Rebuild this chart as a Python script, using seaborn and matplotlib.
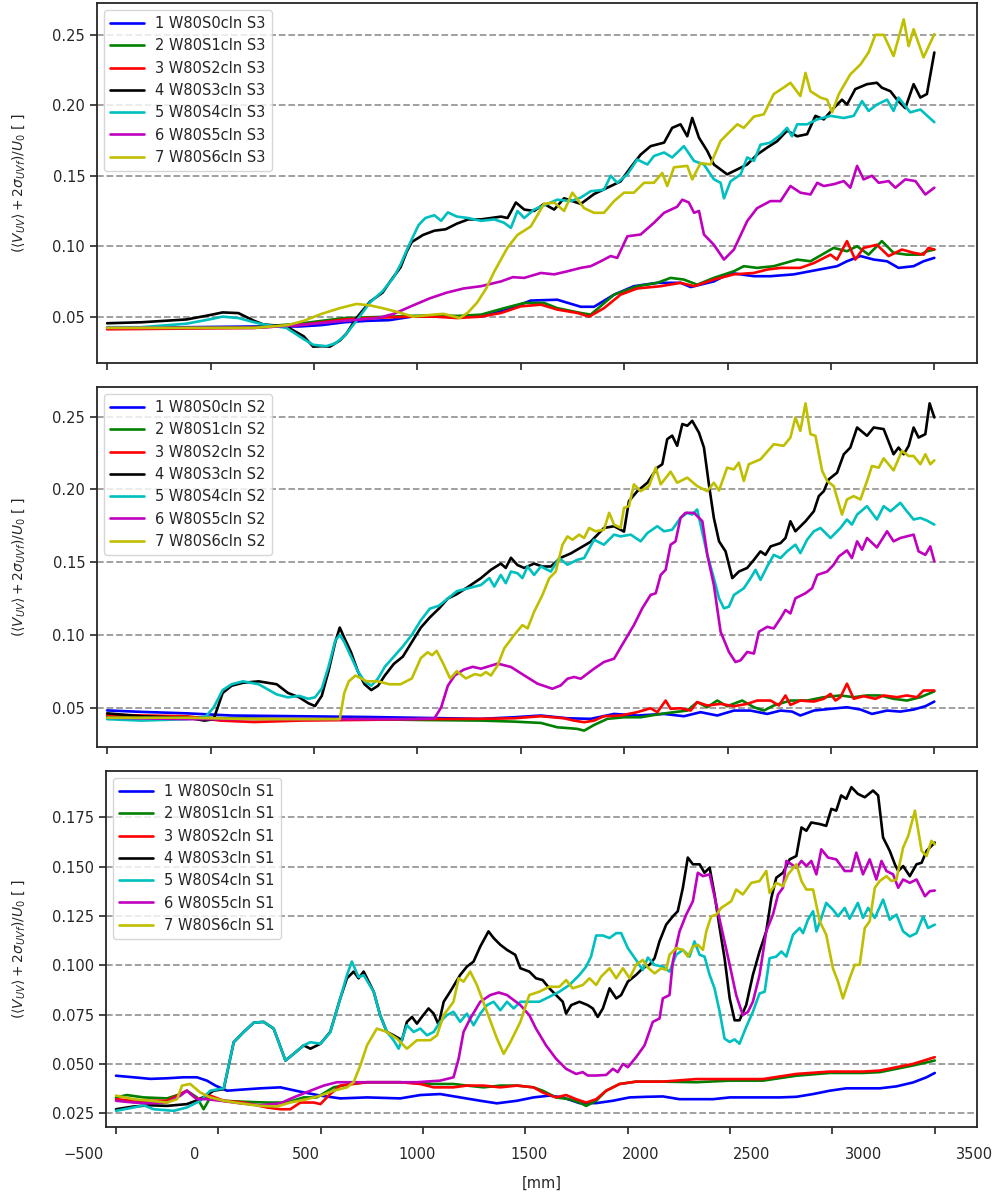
import numpy as np
import pandas as pd
import matplotlib
matplotlib.use("Agg")
import matplotlib.pyplot as plt
import seaborn as sns
from matplotlib.ticker import MultipleLocator, FormatStrFormatter

# ---------------- data (x in mm, y = (<V_UV> + 2 sigma_UVf)/U0) ----------------
# Panel S3 (top)
S3_1 = [(-353,0.042),(-200,0.042),(0,0.0425),(300,0.043),(500,0.043),(600,0.044),(700,0.046),(800,0.047),(900,0.0475),(1000,0.050),(1100,0.050),(1200,0.050),(1307,0.050),(1425,0.055),(1528,0.0614),(1646,0.062),(1750,0.057),(1809,0.057),(1898,0.0656),(1986,0.0716),(2090,0.074),(2193,0.074),(2238,0.071),(2341,0.075),(2415,0.081),(2519,0.0787),(2592,0.0787),(2696,0.080),(2785,0.0827),(2888,0.0858),(2932,0.0893),(2992,0.093),(3051,0.0905),(3110,0.0893),(3161,0.0846),(3228,0.0858),(3272,0.0893),(3320,0.0917)]
S3_2 = [(-353,0.042),(0,0.042),(300,0.0425),(500,0.045),(600,0.047),(700,0.049),(800,0.0495),(900,0.050),(1000,0.0505),(1100,0.051),(1200,0.0505),(1307,0.0514),(1410,0.056),(1499,0.0597),(1587,0.0597),(1646,0.056),(1750,0.0526),(1794,0.0514),(1898,0.0656),(2001,0.0716),(2090,0.074),(2149,0.0775),(2208,0.0763),(2267,0.0727),(2341,0.0775),(2430,0.0822),(2474,0.0858),(2533,0.0846),(2607,0.0858),(2711,0.0905),(2770,0.0893),(2873,0.0988),(2932,0.0964),(2977,0.100),(3028,0.094),(3087,0.1036),(3139,0.0953),(3198,0.094),(3258,0.094),(3287,0.0964),(3320,0.0976)]
S3_3 = [(-353,0.041),(0,0.0415),(300,0.042),(500,0.044),(600,0.046),(700,0.048),(800,0.049),(900,0.0495),(1000,0.050),(1100,0.050),(1200,0.049),(1307,0.050),(1396,0.0526),(1484,0.0573),(1573,0.0585),(1646,0.055),(1735,0.0526),(1787,0.050),(1853,0.056),(1927,0.0656),(2001,0.070),(2105,0.0716),(2193,0.074),(2253,0.0716),(2341,0.0763),(2430,0.080),(2519,0.081),(2578,0.0834),(2637,0.0846),(2725,0.0846),(2785,0.088),(2859,0.094),(2888,0.0905),(2932,0.1036),(2969,0.0905),(3006,0.0988),(3065,0.101),(3117,0.093),(3176,0.0976),(3228,0.0953),(3272,0.094),(3294,0.0988),(3320,0.0976)]
S3_4 = [(-353,0.0453),(-200,0.046),(0,0.048),(100,0.051),(160,0.053),(230,0.0525),(300,0.047),(340,0.0445),(443,0.043),(520,0.036),(562,0.0287),(600,0.029),(636,0.0287),(680,0.033),(710,0.038),(754,0.049),(814,0.0606),(870,0.067),(903,0.0748),(950,0.085),(977,0.096),(1000,0.103),(1050,0.108),(1100,0.111),(1150,0.112),(1200,0.116),(1250,0.119),(1307,0.119),(1396,0.121),(1425,0.120),(1462,0.131),(1499,0.126),(1543,0.125),(1587,0.130),(1632,0.126),(1676,0.134),(1750,0.130),(1809,0.137),(1868,0.1415),(1927,0.146),(1972,0.156),(2016,0.165),(2060,0.171),(2120,0.1735),(2156,0.184),(2193,0.1865),(2223,0.178),(2245,0.191),(2275,0.177),(2312,0.1675),(2341,0.158),(2400,0.151),(2445,0.1545),(2489,0.158),(2533,0.165),(2578,0.170),(2622,0.1745),(2666,0.182),(2711,0.178),(2755,0.1795),(2792,0.1925),(2829,0.190),(2873,0.198),(2910,0.204),(2932,0.2005),(2969,0.2115),(3021,0.215),(3065,0.216),(3087,0.2125),(3125,0.210),(3154,0.204),(3191,0.198),(3228,0.215),(3258,0.2055),(3287,0.208),(3320,0.2375)]
S3_5 = [(-353,0.0425),(-200,0.0425),(0,0.045),(100,0.048),(160,0.050),(230,0.049),(300,0.046),(340,0.0445),(443,0.042),(520,0.034),(562,0.030),(620,0.029),(660,0.031),(700,0.036),(754,0.047),(814,0.060),(870,0.068),(920,0.078),(950,0.087),(977,0.097),(1000,0.105),(1030,0.115),(1060,0.120),(1100,0.122),(1130,0.118),(1160,0.124),(1200,0.121),(1250,0.120),(1307,0.118),(1366,0.119),(1410,0.1166),(1440,0.113),(1469,0.125),(1499,0.120),(1543,0.126),(1602,0.130),(1646,0.133),(1706,0.132),(1750,0.1345),(1794,0.139),(1853,0.140),(1883,0.150),(1912,0.145),(1957,0.151),(2001,0.1615),(2046,0.158),(2075,0.164),(2120,0.1665),(2156,0.163),(2208,0.171),(2253,0.1605),(2297,0.158),(2341,0.1475),(2371,0.145),(2386,0.134),(2415,0.146),(2460,0.151),(2489,0.163),(2519,0.1605),(2548,0.172),(2592,0.1735),(2637,0.179),(2666,0.184),(2688,0.178),(2711,0.1865),(2755,0.1865),(2800,0.190),(2859,0.1925),(2918,0.191),(2962,0.1925),(2999,0.203),(3028,0.196),(3065,0.2005),(3110,0.204),(3139,0.196),(3161,0.2055),(3213,0.195),(3258,0.197),(3320,0.188)]
S3_6 = [(-353,0.042),(0,0.042),(300,0.042),(500,0.044),(700,0.047),(850,0.049),(920,0.052),(1006,0.058),(1080,0.063),(1154,0.067),(1230,0.070),(1307,0.0716),(1396,0.075),(1448,0.078),(1499,0.0775),(1573,0.081),(1632,0.080),(1691,0.0822),(1750,0.0846),(1794,0.0858),(1839,0.0893),(1883,0.093),(1912,0.0917),(1957,0.107),(2016,0.1083),(2075,0.1166),(2120,0.1237),(2178,0.128),(2201,0.133),(2230,0.131),(2253,0.1237),(2275,0.125),(2297,0.1083),(2341,0.101),(2386,0.0905),(2430,0.0976),(2489,0.1178),(2533,0.127),(2592,0.132),(2637,0.132),(2681,0.1427),(2725,0.138),(2770,0.1367),(2800,0.145),(2829,0.1427),(2873,0.144),(2918,0.1462),(2947,0.1415),(2977,0.157),(3006,0.1474),(3043,0.150),(3073,0.145),(3117,0.1462),(3147,0.1415),(3191,0.1474),(3236,0.1462),(3280,0.1367),(3320,0.1415)]
S3_7 = [(-353,0.042),(0,0.042),(300,0.042),(450,0.044),(520,0.047),(600,0.052),(680,0.056),(754,0.059),(814,0.058),(870,0.056),(932,0.0535),(1006,0.050),(1070,0.051),(1139,0.052),(1213,0.049),(1250,0.053),(1290,0.060),(1330,0.070),(1366,0.082),(1425,0.099),(1469,0.108),(1528,0.114),(1587,0.130),(1632,0.131),(1676,0.125),(1713,0.138),(1765,0.127),(1809,0.1237),(1853,0.1237),(1898,0.132),(1942,0.138),(1986,0.138),(2031,0.145),(2075,0.145),(2112,0.152),(2134,0.1427),(2164,0.156),(2223,0.157),(2245,0.1474),(2282,0.159),(2326,0.158),(2371,0.1747),(2400,0.1794),(2445,0.1865),(2474,0.184),(2519,0.192),(2563,0.1936),(2607,0.208),(2651,0.2126),(2681,0.216),(2725,0.2066),(2748,0.223),(2770,0.210),(2814,0.2055),(2844,0.204),(2866,0.195),(2896,0.208),(2947,0.222),(2992,0.229),(3028,0.2375),(3058,0.250),(3095,0.250),(3139,0.235),(3184,0.261),(3206,0.242),(3228,0.254),(3272,0.234),(3320,0.2505)]

# Panel S2 (middle)
S2_1 = [(-353,0.048),(-200,0.047),(0,0.046),(200,0.0445),(500,0.044),(800,0.0435),(1000,0.043),(1200,0.0425),(1307,0.0422),(1454,0.0433),(1573,0.0445),(1691,0.0426),(1794,0.0422),(1898,0.0456),(2001,0.0445),(2120,0.0456),(2208,0.044),(2282,0.0468),(2356,0.0445),(2430,0.0479),(2504,0.0479),(2578,0.0456),(2637,0.0479),(2688,0.0472),(2725,0.0445),(2785,0.0479),(2859,0.0491),(2932,0.0502),(2992,0.0486),(3043,0.0456),(3110,0.0479),(3169,0.0472),(3228,0.0486),(3280,0.0509),(3320,0.0541)]
S2_2 = [(-353,0.044),(0,0.0435),(200,0.0425),(500,0.042),(800,0.042),(1000,0.0415),(1307,0.041),(1454,0.0403),(1573,0.0394),(1646,0.0364),(1706,0.0357),(1735,0.0353),(1765,0.0341),(1809,0.038),(1868,0.0422),(1942,0.0433),(2016,0.0433),(2105,0.0456),(2164,0.0468),(2223,0.0479),(2267,0.0537),(2312,0.0502),(2356,0.0548),(2400,0.0509),(2467,0.0548),(2519,0.0502),(2563,0.0479),(2607,0.0514),(2681,0.0548),(2755,0.0548),(2829,0.0571),(2903,0.0583),(2962,0.0571),(3021,0.0583),(3080,0.0583),(3139,0.056),(3198,0.0548),(3258,0.0571),(3320,0.0611)]
S2_3 = [(-353,0.045),(0,0.044),(150,0.041),(300,0.040),(500,0.041),(800,0.0415),(1000,0.042),(1307,0.0422),(1454,0.0426),(1573,0.044),(1676,0.0426),(1720,0.041),(1765,0.0399),(1809,0.041),(1853,0.044),(1927,0.0445),(2001,0.0468),(2060,0.0495),(2090,0.0468),(2127,0.0548),(2149,0.0491),(2193,0.0495),(2238,0.0479),(2267,0.0537),(2312,0.0514),(2371,0.0525),(2430,0.0509),(2489,0.0525),(2533,0.0548),(2593,0.0548),(2630,0.0514),(2659,0.0583),(2681,0.0518),(2725,0.0548),(2785,0.0541),(2829,0.056),(2859,0.0594),(2881,0.0548),(2903,0.0571),(2932,0.0664),(2962,0.056),(3006,0.0578),(3058,0.056),(3095,0.0583),(3154,0.0571),(3198,0.0583),(3243,0.0571),(3272,0.0617),(3320,0.0617)]
S2_4 = [(-353,0.046),(-200,0.044),(0,0.043),(80,0.041),(120,0.042),(160,0.060),(200,0.065),(250,0.067),(320,0.068),(400,0.066),(450,0.060),(500,0.057),(540,0.053),(570,0.051),(600,0.058),(630,0.075),(660,0.095),(680,0.105),(700,0.098),(730,0.088),(760,0.075),(790,0.066),(820,0.062),(850,0.065),(880,0.072),(920,0.080),(960,0.085),(1000,0.095),(1040,0.105),(1080,0.112),(1120,0.118),(1160,0.125),(1200,0.128),(1250,0.133),(1307,0.139),(1351,0.1447),(1395,0.149),(1417,0.146),(1440,0.153),(1469,0.148),(1499,0.146),(1543,0.149),(1580,0.147),(1617,0.147),(1661,0.153),(1706,0.156),(1750,0.160),(1794,0.164),(1853,0.1735),(1898,0.1747),(1942,0.171),(1964,0.192),(2001,0.1988),(2046,0.2046),(2090,0.215),(2112,0.2173),(2134,0.2346),(2156,0.237),(2178,0.230),(2201,0.245),(2223,0.2438),(2245,0.2472),(2275,0.239),(2297,0.2288),(2319,0.2035),(2341,0.1804),(2364,0.1643),(2393,0.1574),(2423,0.139),(2452,0.1435),(2489,0.146),(2519,0.1516),(2548,0.1574),(2570,0.155),(2593,0.1608),(2637,0.1631),(2659,0.1666),(2681,0.1781),(2703,0.1712),(2748,0.1781),(2785,0.185),(2807,0.1954),(2829,0.1988),(2851,0.2069),(2888,0.2115),(2918,0.2242),(2947,0.2288),(2977,0.2426),(3021,0.2369),(3051,0.2426),(3095,0.2415),(3139,0.2242),(3161,0.2288),(3184,0.2242),(3206,0.230),(3228,0.2426),(3250,0.2357),(3280,0.238),(3299,0.2592),(3320,0.2495)]
S2_5 = [(-353,0.042),(-200,0.041),(0,0.042),(80,0.043),(120,0.050),(160,0.062),(200,0.066),(250,0.068),(320,0.066),(400,0.059),(450,0.057),(500,0.058),(540,0.056),(570,0.057),(600,0.063),(630,0.078),(660,0.096),(680,0.100),(700,0.095),(730,0.085),(760,0.075),(790,0.068),(820,0.065),(850,0.070),(880,0.078),(920,0.085),(960,0.092),(1000,0.100),(1040,0.110),(1080,0.118),(1120,0.120),(1160,0.125),(1200,0.130),(1250,0.132),(1307,0.1343),(1344,0.139),(1366,0.1332),(1395,0.1412),(1417,0.1355),(1440,0.1435),(1469,0.1424),(1491,0.139),(1514,0.147),(1543,0.1412),(1573,0.147),(1617,0.1435),(1654,0.1528),(1691,0.1482),(1735,0.1516),(1765,0.1528),(1809,0.1654),(1853,0.162),(1898,0.1689),(1927,0.1677),(1972,0.1689),(2016,0.1643),(2046,0.170),(2090,0.1747),(2120,0.1712),(2156,0.1723),(2193,0.1804),(2223,0.1839),(2245,0.1827),(2267,0.1862),(2282,0.1758),(2312,0.155),(2341,0.139),(2364,0.1251),(2386,0.1182),(2408,0.1194),(2430,0.1274),(2474,0.132),(2504,0.139),(2526,0.1447),(2548,0.1378),(2578,0.147),(2607,0.155),(2637,0.1528),(2666,0.1574),(2703,0.162),(2725,0.1562),(2755,0.1654),(2785,0.1712),(2814,0.1735),(2859,0.1666),(2903,0.1735),(2932,0.1793),(2954,0.1758),(2977,0.1827),(3021,0.1885),(3065,0.1793),(3095,0.1885),(3125,0.185),(3169,0.1908),(3198,0.185),(3228,0.1793),(3258,0.1804),(3287,0.1786),(3320,0.1758)]
S2_6 = [(-353,0.043),(0,0.042),(500,0.042),(1000,0.042),(1100,0.0425),(1130,0.050),(1160,0.065),(1190,0.072),(1230,0.076),(1270,0.078),(1307,0.0767),(1381,0.0802),(1440,0.0779),(1499,0.0721),(1558,0.0664),(1624,0.0629),(1661,0.0652),(1691,0.0698),(1720,0.071),(1750,0.0698),(1780,0.0733),(1809,0.0767),(1853,0.0813),(1898,0.0836),(1942,0.0952),(1986,0.1067),(2023,0.1182),(2060,0.1274),(2083,0.1286),(2105,0.1412),(2127,0.1447),(2149,0.162),(2171,0.1643),(2193,0.1804),(2215,0.1839),(2253,0.1839),(2290,0.1781),(2312,0.155),(2341,0.1343),(2371,0.1021),(2408,0.0882),(2437,0.0813),(2460,0.0825),(2489,0.0882),(2519,0.0871),(2541,0.1021),(2578,0.1055),(2607,0.1044),(2637,0.1113),(2659,0.1171),(2681,0.1147),(2703,0.1251),(2748,0.1286),(2777,0.132),(2800,0.1412),(2844,0.1435),(2873,0.1482),(2896,0.1539),(2932,0.1581),(2954,0.1528),(2977,0.1643),(2999,0.1585),(3021,0.1666),(3065,0.1601),(3110,0.1712),(3139,0.1643),(3169,0.1666),(3228,0.1689),(3250,0.1574),(3280,0.155),(3302,0.1608),(3320,0.1505)]
S2_7 = [(-353,0.043),(0,0.043),(300,0.042),(600,0.042),(680,0.042),(700,0.060),(720,0.068),(750,0.072),(800,0.068),(850,0.068),(900,0.066),(950,0.066),(1000,0.070),(1040,0.084),(1070,0.088),(1090,0.086),(1110,0.089),(1140,0.080),(1170,0.070),(1200,0.075),(1240,0.070),(1280,0.073),(1307,0.072),(1329,0.0744),(1351,0.072),(1381,0.079),(1410,0.0906),(1454,0.0998),(1491,0.1067),(1514,0.1044),(1543,0.1159),(1580,0.1274),(1610,0.1389),(1639,0.1435),(1669,0.162),(1691,0.1677),(1713,0.1654),(1743,0.1689),(1765,0.1666),(1787,0.1735),(1816,0.1712),(1853,0.1723),(1876,0.1839),(1898,0.1758),(1927,0.1735),(1942,0.1873),(1964,0.1885),(1986,0.2035),(2016,0.1988),(2053,0.2023),(2083,0.215),(2105,0.2035),(2149,0.2122),(2178,0.2046),(2223,0.2081),(2267,0.2023),(2312,0.1988),(2341,0.2046),(2364,0.1993),(2400,0.215),(2430,0.2138),(2452,0.2184),(2474,0.2058),(2496,0.2173),(2548,0.2207),(2607,0.2311),(2651,0.230),(2681,0.2357),(2703,0.2495),(2725,0.2403),(2748,0.2592),(2770,0.238),(2792,0.2369),(2822,0.2127),(2844,0.2058),(2873,0.2023),(2910,0.1827),(2932,0.1931),(2962,0.1954),(2992,0.1931),(3021,0.2058),(3043,0.2161),(3073,0.215),(3095,0.2214),(3139,0.2131),(3176,0.2265),(3206,0.223),(3228,0.223),(3258,0.2173),(3280,0.2242),(3302,0.2173),(3320,0.220)]

# Panel S1 (bottom)
S1_1 = [(-353,0.044),(-274,0.0432),(-199,0.0424),(-124,0.0427),(-50,0.0432),(10,0.0432),(55,0.0415),(93,0.039),(145,0.0364),(205,0.0369),(294,0.0376),(384,0.0381),(474,0.0359),(564,0.0339),(653,0.0325),(773,0.033),(922,0.0325),(1012,0.0342),(1101,0.0347),(1191,0.033),(1281,0.0313),(1356,0.030),(1446,0.0313),(1520,0.033),(1591,0.0339),(1651,0.033),(1726,0.0301),(1801,0.0301),(1876,0.0313),(1951,0.033),(2025,0.0333),(2100,0.0335),(2175,0.0321),(2250,0.0321),(2325,0.0321),(2400,0.033),(2474,0.033),(2549,0.033),(2624,0.033),(2699,0.0333),(2774,0.0347),(2849,0.0364),(2923,0.0376),(2998,0.0376),(3073,0.0376),(3148,0.0386),(3223,0.0406),(3283,0.0432),(3320,0.0454)]
S1_2 = [(-353,0.033),(-304,0.0342),(-229,0.033),(-124,0.0325),(-64,0.0347),(-35,0.0364),(10,0.033),(40,0.027),(70,0.033),(130,0.0313),(220,0.0308),(324,0.0304),(414,0.0304),(489,0.033),(548,0.033),(623,0.0381),(698,0.0398),(773,0.0407),(922,0.0407),(1072,0.0398),(1161,0.0398),(1221,0.039),(1296,0.0381),(1371,0.039),(1446,0.039),(1520,0.0381),(1561,0.0364),(1621,0.033),(1681,0.0321),(1726,0.0304),(1756,0.0287),(1801,0.0313),(1846,0.0364),(1906,0.0398),(1980,0.041),(2100,0.041),(2250,0.0407),(2400,0.0415),(2549,0.0415),(2699,0.044),(2849,0.0454),(2998,0.0454),(3073,0.0458),(3148,0.0475),(3223,0.0492),(3320,0.0517)]
S1_3 = [(-353,0.0321),(-274,0.0313),(-199,0.0313),(-124,0.0313),(-64,0.0347),(-35,0.0364),(10,0.0321),(70,0.0339),(130,0.0313),(220,0.0304),(324,0.0279),(384,0.027),(429,0.027),(474,0.0304),(534,0.0304),(564,0.0296),(608,0.0347),(653,0.039),(773,0.0407),(922,0.0407),(1012,0.0398),(1072,0.0381),(1161,0.0381),(1221,0.039),(1296,0.039),(1371,0.0381),(1446,0.039),(1520,0.0381),(1561,0.0355),(1621,0.033),(1666,0.0342),(1711,0.0321),(1756,0.0304),(1801,0.0321),(1846,0.0364),(1906,0.0398),(1980,0.041),(2100,0.041),(2250,0.0423),(2400,0.0423),(2549,0.0423),(2699,0.0449),(2849,0.0461),(2998,0.0461),(3073,0.0466),(3148,0.0483),(3223,0.050),(3320,0.0534)]
S1_4 = [(-353,0.027),(-274,0.0284),(-199,0.029),(-124,0.0287),(-35,0.0296),(25,0.0321),(85,0.0364),(130,0.0372),(175,0.061),(220,0.0662),(265,0.0709),(309,0.0713),(354,0.0679),(377,0.061),(407,0.0517),(444,0.0551),(489,0.0594),(519,0.0577),(564,0.0602),(608,0.0662),(653,0.0832),(683,0.0934),(713,0.0968),(735,0.0934),(758,0.0968),(803,0.0866),(832,0.0747),(862,0.0662),(892,0.0645),(930,0.062),(952,0.0713),(975,0.0738),(997,0.0704),(1019,0.0738),(1049,0.0781),(1072,0.0755),(1094,0.0699),(1117,0.0815),(1146,0.0866),(1191,0.0951),(1221,0.0993),(1251,0.1019),(1281,0.1095),(1318,0.1172),(1341,0.1138),(1371,0.1104),(1401,0.1078),(1438,0.1053),(1461,0.0985),(1501,0.0968),(1531,0.0934),(1561,0.0925),(1591,0.0883),(1621,0.0849),(1651,0.0815),(1666,0.0755),(1689,0.0798),(1726,0.0815),(1763,0.0798),(1786,0.0781),(1808,0.0738),(1831,0.0781),(1861,0.0883),(1891,0.0832),(1913,0.0849),(1943,0.0917),(1980,0.0951),(2010,0.0985),(2040,0.1002),(2063,0.1036),(2085,0.1121),(2115,0.1206),(2145,0.1248),(2167,0.1274),(2190,0.1393),(2212,0.1546),(2235,0.1512),(2265,0.1512),(2287,0.1469),(2310,0.1495),(2332,0.1359),(2355,0.1189),(2377,0.1036),(2400,0.0832),(2422,0.0721),(2444,0.0721),(2474,0.0798),(2504,0.0951),(2534,0.107),(2564,0.1172),(2587,0.1342),(2609,0.1444),(2639,0.1469),(2669,0.1537),(2699,0.1554),(2722,0.1699),(2744,0.1682),(2766,0.1724),(2804,0.1716),(2833,0.1707),(2856,0.1793),(2878,0.1784),(2900,0.1861),(2923,0.1844),(2946,0.1903),(2975,0.1869),(3006,0.1852),(3043,0.1886),(3066,0.1861),(3088,0.1648),(3118,0.158),(3141,0.1512),(3156,0.1478),(3178,0.1503),(3208,0.1452),(3238,0.1512),(3261,0.152),(3283,0.158),(3320,0.1622)]
S1_5 = [(-353,0.0262),(-274,0.0279),(-229,0.029),(-184,0.027),(-94,0.0262),(-35,0.0279),(25,0.0313),(70,0.0364),(130,0.0376),(175,0.061),(220,0.0662),(265,0.0709),(309,0.0713),(354,0.068),(377,0.061),(407,0.0517),(444,0.0551),(489,0.0594),(519,0.061),(564,0.0602),(608,0.066),(653,0.0832),(683,0.095),(705,0.1019),(735,0.094),(758,0.095),(803,0.0866),(832,0.0747),(862,0.0662),(892,0.062),(915,0.0577),(952,0.0696),(982,0.0662),(1012,0.0679),(1042,0.0645),(1072,0.0662),(1101,0.0713),(1131,0.0747),(1161,0.0764),(1191,0.0713),(1221,0.0755),(1251,0.0696),(1281,0.0755),(1311,0.0798),(1341,0.0815),(1371,0.0772),(1401,0.0815),(1431,0.0781),(1461,0.0815),(1501,0.0815),(1546,0.0815),(1591,0.084),(1636,0.0866),(1681,0.09),(1726,0.0951),(1756,0.0993),(1778,0.1044),(1801,0.1151),(1831,0.1151),(1861,0.1138),(1891,0.1163),(1913,0.1163),(1943,0.1087),(1980,0.1027),(2010,0.0976),(2033,0.1039),(2063,0.1002),(2100,0.0993),(2130,0.0968),(2160,0.1053),(2190,0.1078),(2220,0.1044),(2242,0.1121),(2265,0.1053),(2287,0.1044),(2310,0.0951),(2332,0.0883),(2355,0.0764),(2377,0.0628),(2400,0.0611),(2422,0.0624),(2444,0.0602),(2474,0.0687),(2504,0.0764),(2534,0.0857),(2557,0.0866),(2579,0.1036),(2609,0.1044),(2632,0.107),(2654,0.1044),(2684,0.1155),(2714,0.1189),(2729,0.1163),(2751,0.1231),(2774,0.1274),(2789,0.1172),(2811,0.124),(2833,0.1316),(2863,0.1282),(2886,0.1248),(2916,0.1291),(2938,0.1236),(2975,0.1316),(2998,0.124),(3021,0.1291),(3051,0.124),(3088,0.1333),(3118,0.1231),(3148,0.1257),(3178,0.1172),(3208,0.1146),(3238,0.1163),(3268,0.1248),(3290,0.1189),(3320,0.1206)]
S1_6 = [(-353,0.0313),(-274,0.0304),(-199,0.030),(-124,0.0304),(-64,0.0339),(-35,0.0364),(10,0.0321),(55,0.0321),(115,0.0313),(205,0.030),(294,0.029),(384,0.030),(444,0.033),(519,0.0364),(579,0.039),(638,0.0407),(713,0.0407),(847,0.0407),(997,0.0407),(1101,0.0415),(1161,0.0432),(1184,0.0526),(1206,0.0662),(1236,0.073),(1281,0.0815),(1326,0.0849),(1364,0.0862),(1401,0.0849),(1461,0.0798),(1501,0.0747),(1531,0.0679),(1576,0.0594),(1621,0.0526),(1666,0.0475),(1711,0.0449),(1741,0.0458),(1763,0.0441),(1801,0.0441),(1846,0.0444),(1876,0.0475),(1898,0.0458),(1921,0.050),(1943,0.0483),(1980,0.0534),(2018,0.0594),(2055,0.0713),(2085,0.073),(2100,0.0832),(2130,0.0849),(2145,0.1019),(2175,0.1172),(2205,0.1257),(2235,0.1325),(2257,0.1469),(2280,0.1452),(2310,0.1461),(2340,0.1308),(2370,0.1155),(2400,0.1002),(2429,0.0849),(2459,0.0747),(2482,0.0764),(2504,0.0815),(2534,0.0951),(2564,0.1172),(2594,0.1257),(2617,0.1359),(2639,0.1393),(2654,0.1529),(2677,0.1512),(2699,0.1495),(2722,0.1529),(2744,0.1503),(2766,0.1529),(2789,0.1461),(2811,0.1588),(2841,0.1546),(2878,0.1537),(2916,0.1478),(2946,0.1478),(2968,0.1571),(2998,0.1461),(3028,0.1537),(3058,0.1435),(3081,0.1529),(3103,0.1478),(3133,0.1461),(3156,0.1393),(3178,0.1435),(3208,0.1418),(3238,0.1435),(3276,0.135),(3298,0.1376),(3320,0.1379)]
S1_7 = [(-353,0.0339),(-274,0.0321),(-199,0.0313),(-124,0.0304),(-79,0.0321),(-57,0.039),(-20,0.0398),(25,0.0355),(70,0.033),(130,0.0313),(205,0.030),(294,0.0287),(369,0.0284),(429,0.0304),(504,0.0321),(564,0.0339),(623,0.0364),(683,0.0381),(713,0.0407),(743,0.0492),(773,0.0594),(817,0.0679),(862,0.0662),(907,0.0628),(952,0.0577),(997,0.062),(1057,0.062),(1087,0.0645),(1117,0.0747),(1161,0.0815),(1184,0.0934),(1206,0.0917),(1236,0.0968),(1266,0.090),(1311,0.0764),(1356,0.0628),(1386,0.0551),(1416,0.061),(1461,0.0713),(1501,0.0849),(1546,0.0866),(1591,0.0891),(1636,0.0891),(1666,0.0925),(1696,0.0883),(1741,0.090),(1771,0.0934),(1801,0.090),(1823,0.0942),(1861,0.0985),(1891,0.0934),(1921,0.0985),(1951,0.0934),(1980,0.1002),(2010,0.1027),(2033,0.0988),(2063,0.0959),(2093,0.0985),(2115,0.0976),(2130,0.1053),(2160,0.1087),(2190,0.1078),(2212,0.1044),(2235,0.1095),(2257,0.1104),(2280,0.1078),(2295,0.1172),(2317,0.1248),(2340,0.1257),(2362,0.1291),(2385,0.1308),(2407,0.1325),(2429,0.1384),(2459,0.1359),(2497,0.1418),(2534,0.1427),(2564,0.1478),(2579,0.1367),(2609,0.1418),(2639,0.1401),(2662,0.1461),(2699,0.1512),(2722,0.1427),(2744,0.1384),(2774,0.1384),(2804,0.1223),(2833,0.1155),(2863,0.0985),(2886,0.0917),(2908,0.0832),(2938,0.0934),(2961,0.1002),(2983,0.1002),(3006,0.1189),(3028,0.1223),(3051,0.1393),(3073,0.1427),(3103,0.1452),(3126,0.1427),(3148,0.1435),(3178,0.1597),(3201,0.1656),(3231,0.1784),(3261,0.158),(3283,0.1554),(3305,0.1631),(3320,0.1614)]

CASES = ["W80S0cln", "W80S1cln", "W80S2cln", "W80S3cln", "W80S4cln", "W80S5cln", "W80S6cln"]
COLORS = ["b", "g", "r", "k", "c", "m", "y"]
PANELS = [("S3", [S3_1, S3_2, S3_3, S3_4, S3_5, S3_6, S3_7]),
          ("S2", [S2_1, S2_2, S2_3, S2_4, S2_5, S2_6, S2_7]),
          ("S1", [S1_1, S1_2, S1_3, S1_4, S1_5, S1_6, S1_7])]
XTICK_LABELS = [-500, 0, 500, 1000, 1500, 2000, 2500, 3000, 3500]
YLABEL = r"$(\langle V_{UV}\rangle + 2\sigma_{UVf})/U_0$ [ ]"

# ---------------- plotting ----------------
sns.set_style("ticks")
plt.rcParams["font.family"] = ["DejaVu Sans"]
plt.rcParams["font.size"] = 10.5

fig = plt.figure(figsize=(10, 11.96), dpi=100)
H = 1196.0
boxes = [(97, 3, 977, 363), (97, 387, 977, 747), (106, 771, 977, 1127)]

for (tag, series), (l, t, r, b) in zip(PANELS, boxes):
    ax = fig.add_axes([l / 1000, 1 - b / H, (r - l) / 1000, (b - t) / H])
    for i, pts in enumerate(series):
        arr = np.array(pts)
        df = pd.DataFrame({"x": arr[:, 0], "y": arr[:, 1]})
        sns.lineplot(data=df, x="x", y="y", ax=ax, color=COLORS[i], lw=1.9,
                     estimator=None, sort=False, label=f"{i+1} {CASES[i]} {tag}")
    xmin = min(min(p[0] for p in s) for s in series)
    xmax = max(max(p[0] for p in s) for s in series)
    span = xmax - xmin
    ax.set_xlim(xmin - 0.0115 * span / 0.9405, xmax + 0.0485 * span / 0.9405)
    ax.set_xticks(np.linspace(xmin, xmax, 9))
    ax.tick_params(axis="x", labelbottom=False, length=5, width=1.2, colors="0.15")
    ax.tick_params(axis="y", labelsize=10.5, length=5, width=1.2, colors="0.15")
    ax.yaxis.set_major_locator(MultipleLocator(0.025 if tag == "S1" else 0.05))
    ax.yaxis.set_major_formatter(FormatStrFormatter("%.3f" if tag == "S1" else "%.2f"))
    ax.yaxis.grid(True, ls="--", color="0.6", lw=1.3)
    ax.set_axisbelow(True)
    ax.set_xlabel("")
    ax.set_ylabel(YLABEL, fontsize=10)
    ax.yaxis.set_label_coords((27 - l) / (r - l), 0.5)
    for sp in ax.spines.values():
        sp.set_linewidth(1.3)
        sp.set_color("0.15")
    ax.legend(loc="upper left", fontsize=10.5, handlelength=2.3, framealpha=0.8)
    if tag == "S1":
        tr = ax.get_xaxis_transform()
        for v in XTICK_LABELS:
            ax.text(v, -0.056, f"{v}".replace("-", "\u2212"), transform=tr,
                    ha="center", va="top", fontsize=10.5, color="0.15", clip_on=False)
        ax.text(0.5, -0.157, "[mm]", transform=ax.transAxes, ha="center",
                va="center", fontsize=10.5, color="0.15")

fig.savefig("out.png", dpi=100)
